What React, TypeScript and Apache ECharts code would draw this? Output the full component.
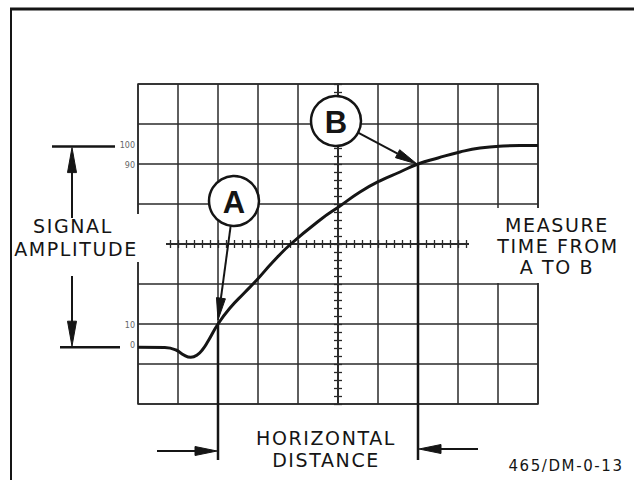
import React, { useEffect, useRef } from "react";
import * as echarts from "echarts";

// Waveform, in graticule divisions (x: -5..5 from centre, y: -4..4 from centre)
const curveX = [-5.0, -4.33, -4.05, -3.85, -3.68, -3.53, -3.38, -3.25, -3.0, -2.7, -2.35, -2.03, -1.63, -1.18, -0.45, 0.05, 0.55, 1.05, 1.55, 2.0, 2.5, 3.05, 3.55, 4.13, 4.55, 5.0];
const curveY = [-2.58, -2.59, -2.65, -2.78, -2.83, -2.78, -2.63, -2.43, -2.0, -1.6, -1.23, -0.9, -0.45, 0.0, 0.6, 0.95, 1.3, 1.58, 1.8, 2.0, 2.15, 2.3, 2.4, 2.45, 2.46, 2.46];

// graticule percentage marks
const levelLabels = ["100", "90", "10", "0"];
const levelValues = [2.5, 2, -2, -2.5];

// measurement points (10% and 90%)
const pointA = [-3, -2];
const pointB = [2, 2];

const leftLabel = ["SIGNAL", "AMPLITUDE"];
const rightLabel = ["MEASURE", "TIME FROM", "A TO B"];
const bottomLabel = ["HORIZONTAL", "DISTANCE"];
const figId = "465/DM-0-13";

const INK = "#151515";
const GRID = "#2a2a2a";
const FONT = "'DejaVu Sans', 'Liberation Sans', Arial, sans-serif";

function head(tip: number[], from: number[], len: number, hw: number) {
  const dx = tip[0] - from[0];
  const dy = tip[1] - from[1];
  const d = Math.hypot(dx, dy);
  const ux = dx / d;
  const uy = dy / d;
  const bx = tip[0] - ux * len;
  const by = tip[1] - uy * len;
  return [
    [tip[0], tip[1]],
    [bx - uy * hw, by + ux * hw],
    [bx + uy * hw, by - ux * hw],
  ];
}

function txt(text: string, x: number, y: number, size: number, extra: any = {}) {
  return {
    type: "text",
    z: 120,
    silent: true,
    style: {
      text,
      x,
      y,
      fill: INK,
      fontSize: size,
      fontFamily: FONT,
      align: "center",
      verticalAlign: "middle",
      textAlign: "center",
      textVerticalAlign: "middle",
      ...extra,
    },
  };
}

function ln(x1: number, y1: number, x2: number, y2: number, w: number) {
  return {
    type: "line",
    z: 110,
    silent: true,
    shape: { x1, y1, x2, y2 },
    style: { stroke: INK, lineWidth: w },
  };
}

function poly(points: number[][]) {
  return {
    type: "polygon",
    z: 111,
    silent: true,
    shape: { points },
    style: { fill: INK, stroke: INK, lineWidth: 1 },
  };
}

function axisPair(dim: "x" | "y") {
  const range = dim === "x" ? { min: -5, max: 5 } : { min: -4, max: 4 };
  const pos = dim === "x" ? "bottom" : "left";
  const base = (inside: boolean, split: boolean) => ({
    type: "value",
    ...range,
    interval: 1,
    position: pos,
    axisLine: { show: true, onZero: true, onZeroAxisIndex: 0, lineStyle: { color: GRID, width: 1.5 } },
    axisTick: { show: true, inside, length: 4, lineStyle: { color: GRID, width: 1.3 } },
    minorTick: { show: true, splitNumber: 5, length: 4, lineStyle: { color: GRID, width: 1.3 } },
    axisLabel: { show: false },
    splitLine: { show: split, lineStyle: { color: GRID, width: 1.5 } },
    minorSplitLine: { show: false },
  });
  return [base(true, true), base(false, false)];
}

export default function App() {
  const ref = useRef<HTMLDivElement>(null);

  useEffect(() => {
    const el = ref.current!;
    const chart = echarts.init(el, null, { renderer: "svg" });
    chart.setOption({
      animation: false,
      backgroundColor: "#ffffff",
      grid: { left: 138, top: 84, width: 400, height: 320, show: true, borderColor: GRID, borderWidth: 1.5, backgroundColor: "transparent" },
      xAxis: axisPair("x"),
      yAxis: axisPair("y"),
      series: [
        {
          type: "line",
          xAxisIndex: 0,
          yAxisIndex: 0,
          data: curveX.map((x, i) => [x, curveY[i]]),
          showSymbol: false,
          smooth: 0.5,
          silent: true,
          z: 5,
          lineStyle: { color: INK, width: 3 },
        },
      ],
    });

    const px = (p: number[]) => chart.convertToPixel({ gridIndex: 0 }, p) as number[];
    const A = px(pointA);
    const B = px(pointB);
    const gLeft = px([-5, 0])[0];

    const g: any[] = [];
    // frame (top rule and left rule only)
    g.push({ type: "rect", z: 110, silent: true, shape: { x: 10, y: 7.5, width: 624, height: 3 }, style: { fill: INK } });
    g.push({ type: "rect", z: 110, silent: true, shape: { x: 10, y: 8, width: 2, height: 472 }, style: { fill: INK } });

    // white boxes behind side texts
    g.push({ type: "rect", z: 100, silent: true, shape: { x: 14, y: 214, width: 152, height: 48 }, style: { fill: "#fff" } });
    g.push({ type: "rect", z: 100, silent: true, shape: { x: 469, y: 208, width: 160, height: 75 }, style: { fill: "#fff" } });

    // graticule level labels
    levelLabels.forEach((t, i) => {
      const y = px([0, levelValues[i]])[1];
      g.push(txt(t, gLeft - 3, y + 1, 8, { align: "right", textAlign: "right", fill: "#666" }));
    });

    // signal amplitude dimension
    const top = px([0, curveY[curveY.length - 1]])[1] + 1;
    const bot = px([0, curveY[0]])[1];
    g.push(ln(52, top, 115, top, 2.5));
    g.push(ln(60, bot, 120, bot, 2.5));
    g.push(ln(72, 218, 72, top + 20, 2));
    g.push(poly(head([72, top + 1], [72, 218], 25, 4.5)));
    g.push(ln(72, 276, 72, bot - 20, 2));
    g.push(poly(head([72, bot - 1], [72, 276], 25, 4.5)));
    g.push(txt(leftLabel[0], 73, 226, 19));
    g.push(txt(leftLabel[1], 76, 249, 19));

    // right text
    g.push(txt(rightLabel[0], 557, 225, 19));
    g.push(txt(rightLabel[1], 558, 246, 19));
    g.push(txt(rightLabel[2], 557, 267, 19));

    // circles A and B with arrows
    const cA = [234, 201];
    const cB = [336, 121];
    const r = 25;
    const arrow = (c: number[], tip: number[]) => {
      const dx = tip[0] - c[0];
      const dy = tip[1] - c[1];
      const d = Math.hypot(dx, dy);
      const s = [c[0] + (dx / d) * r, c[1] + (dy / d) * r];
      const h = head(tip, s, 22, 4.5);
      const mid = [(h[1][0] + h[2][0]) / 2, (h[1][1] + h[2][1]) / 2];
      g.push(ln(s[0], s[1], mid[0], mid[1], 2));
      g.push(poly(h));
    };
    arrow(cA, [A[0], A[1] - 4]);
    arrow(cB, [B[0] - 1, B[1]]);
    [[cA, "A"], [cB, "B"]].forEach(([c, t]: any) => {
      g.push({ type: "circle", z: 112, silent: true, shape: { cx: c[0], cy: c[1], r }, style: { fill: "#fff", stroke: INK, lineWidth: 2.5 } });
      g.push(txt(t, c[0], c[1] + 1, 31, { fontWeight: "bold", fontFamily: "'Liberation Sans Narrow', 'Liberation Sans', Arial, sans-serif" }));
    });

    // horizontal distance markers
    g.push(ln(A[0], A[1], A[0], 460, 2.5));
    g.push(ln(B[0], B[1], B[0], 460, 2.5));
    g.push(ln(157, 451, A[0] - 20, 451, 2));
    g.push(poly(head([A[0] - 1, 451], [157, 451], 22, 4.5)));
    g.push(ln(478, 449, B[0] + 20, 449, 2));
    g.push(poly(head([B[0] + 1, 449], [478, 449], 22, 4.5)));
    g.push(txt(bottomLabel[0], 326, 438, 19));
    g.push(txt(bottomLabel[1], 326, 460, 19));

    g.push(txt(figId, 566, 466, 15));

    chart.setOption({ graphic: { elements: g } });

    // widen the lettering of the captions, as in the original drawing
    const spaced = new Set([...leftLabel, ...rightLabel, ...bottomLabel, figId]);
    el.querySelectorAll("text").forEach((t) => {
      if (spaced.has((t.textContent || "").trim())) t.setAttribute("letter-spacing", "1.6");
    });

    return () => chart.dispose();
  }, []);

  return (
    <div
      ref={ref}
      style={{ position: "fixed", left: 0, top: 0, width: 634, height: 482, background: "#fff" }}
    />
  );
}
